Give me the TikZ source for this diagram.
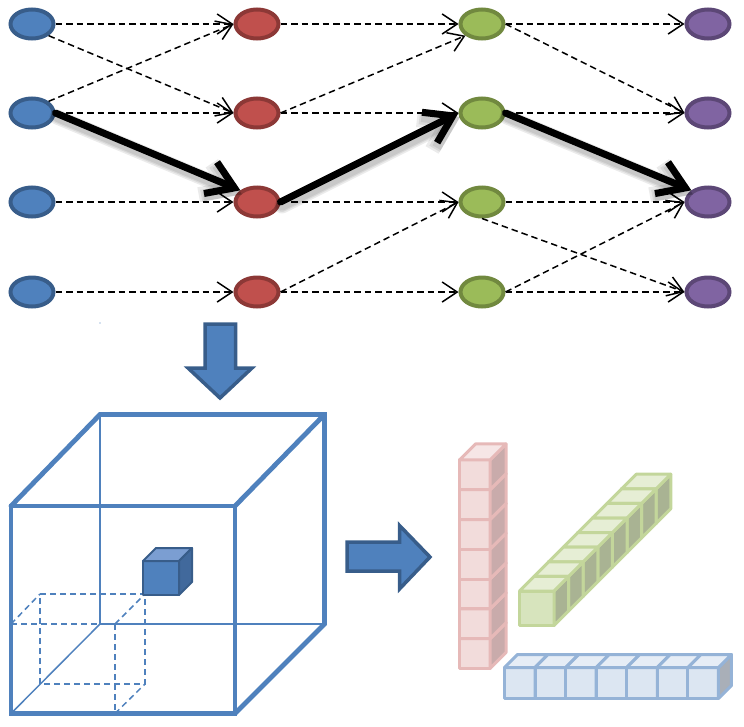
\documentclass[tikz,border=0pt]{standalone}
\usetikzlibrary{arrows.meta,shapes.geometric}
\definecolor{bfill}{HTML}{4F81BD}
\definecolor{bline}{HTML}{385D8A}
\definecolor{rfill}{HTML}{C0504D}
\definecolor{rline}{HTML}{8C3836}
\definecolor{gfill}{HTML}{9BBB59}
\definecolor{gline}{HTML}{71893F}
\definecolor{pfill}{HTML}{8064A2}
\definecolor{pline}{HTML}{5C4776}
\definecolor{pkline}{HTML}{E6B9B8}
\definecolor{pkfront}{HTML}{F2DCDB}
\definecolor{pktop}{HTML}{F6E6E6}
\definecolor{pkside}{HTML}{C9ABAB}
\definecolor{grline}{HTML}{C3D69B}
\definecolor{grfront}{HTML}{D7E4BD}
\definecolor{grtop}{HTML}{E6EED5}
\definecolor{grside}{HTML}{A9B393}
\definecolor{blline}{HTML}{95B3D7}
\definecolor{blfront}{HTML}{DCE6F2}
\definecolor{bltop}{HTML}{E6EDF6}
\definecolor{blside}{HTML}{A9AFB8}
\definecolor{cubetop}{HTML}{7B9ED2}
\definecolor{cubeside}{HTML}{41699C}
\tikzset{
  neuron/.style={ellipse, minimum width=43pt, minimum height=29pt, inner sep=0pt, line width=4pt},
  layA/.style={neuron, fill=bfill, draw=bline},
  layB/.style={neuron, fill=rfill, draw=rline},
  layC/.style={neuron, fill=gfill, draw=gline},
  layD/.style={neuron, fill=pfill, draw=pline},
  dasharrow/.style={line width=1.5pt, dash pattern=on 6.5pt off 4pt, -{Straight Barb[length=15pt,width=20pt]}},
  patharrow/.style={line width=7pt, line cap=round, -{Straight Barb[length=26pt,width=34pt]}},
  pathshadow/.style={line width=#1, black, opacity=0.08, line cap=round, -{Straight Barb[length=26pt,width=34pt]}},
  blockarrow/.style={line width=3.5pt, draw=bline, fill=bfill, line join=miter},
  thickedge/.style={line width=4.8pt, draw=bfill, line cap=round},
  thinedge/.style={line width=1.5pt, draw=bfill},
  hidden/.style={line width=1.5pt, draw=bfill, dash pattern=on 6pt off 4pt},
  pinkcube/.style={line width=3pt, draw=pkline, line join=round},
  greencube/.style={line width=3pt, draw=grline, line join=round},
  bluecube/.style={line width=3pt, draw=blline, line join=round},
  solidcube/.style={line width=2pt, draw=bline, line join=round}
}
\begin{document}
\begin{tikzpicture}[x=1pt,y=-1pt]
\useasboundingbox (0,0) rectangle (744,726);

% ---------- neurons ----------
\node[layA] (b1) at (32,24) {};
\node[layA] (b2) at (32,113) {};
\node[layA] (b3) at (32,202) {};
\node[layA] (b4) at (32,292) {};
\node[layB] (r1) at (257,24) {};
\node[layB] (r2) at (257,113) {};
\node[layB] (r3) at (257,202) {};
\node[layB] (r4) at (257,292) {};
\node[layC] (g1) at (482,24) {};
\node[layC] (g2) at (482,113) {};
\node[layC] (g3) at (482,202) {};
\node[layC] (g4) at (482,292) {};
\node[layD] (p1) at (708,24) {};
\node[layD] (p2) at (708,113) {};
\node[layD] (p3) at (708,202) {};
\node[layD] (p4) at (708,292) {};

% ---------- dashed connections ----------
\draw[dasharrow] (b1.east) -- (r1.west);
\draw[dasharrow] (b1.south east) -- (r2.west);
\draw[dasharrow] (b2.north east) -- (r1.west);
\draw[dasharrow] (b2.east) -- (r2.west);
\draw[dasharrow] (b3.east) -- (r3.west);
\draw[dasharrow] (b4.east) -- (r4.west);

\draw[dasharrow] (r1.east) -- (g1.west);
\draw[dasharrow] (r2.east) -- (g1.south west);
\draw[dasharrow] (r2.east) -- (g2.west);
\draw[dasharrow] (r3.east) -- (g3.west);
\draw[dasharrow] (r4.east) -- (g3.west);
\draw[dasharrow] (r4.east) -- (g4.west);

\draw[dasharrow] (g1.east) -- (p1.west);
\draw[dasharrow] (g1.east) -- (p2.west);
\draw[dasharrow] (g2.east) -- (p2.west);
\draw[dasharrow] (g3.east) -- (p3.west);
\draw[dasharrow] (g3.south) -- (p4.west);
\draw[dasharrow] (g4.east) -- (p3.west);
\draw[dasharrow] (g4.east) -- (p4.west);

% ---------- highlighted path: shadow ----------
\begin{scope}[transform canvas={shift={(1.5pt,-4pt)}}]
\foreach \w in {15pt,12pt,9.5pt} {
  \draw[pathshadow=\w] (b2.east) -- (r3.north west);
  \draw[pathshadow=\w] (r3.east) -- (g2.west);
  \draw[pathshadow=\w] (g2.east) -- (p3.north west);
}
\end{scope}
% ---------- highlighted path ----------
\draw[patharrow] (b2.east) -- (r3.north west);
\draw[patharrow] (r3.east) -- (g2.west);
\draw[patharrow] (g2.east) -- (p3.north west);

% tiny dot
\fill[bfill] (100,323) circle (0.7pt);

% ---------- block arrows ----------
\draw[blockarrow] (205,324) -- (235.5,324) -- (235.5,368) -- (252,368) -- (220,398) -- (188,368) -- (205,368) -- cycle;
\draw[blockarrow] (347,542) -- (399.5,542) -- (399.5,525.5) -- (430,557) -- (399.5,589) -- (399.5,571) -- (347,571) -- cycle;

% ---------- big cube ----------
\draw[thinedge] (100,414.5) -- (100,624) -- (324.5,624);
\draw[thinedge] (11,713.5) -- (100,624);
% dashed small cube
\draw[hidden] (11,624) -- (100,624);
\draw[hidden] (115,624) -- (115,713.5);
\draw[hidden] (40,594) -- (145,594) -- (145,684) -- (40,684) -- cycle;
\draw[hidden] (11,624) -- (40,594);
\draw[hidden] (115,624) -- (145,594);
\draw[hidden] (115,713.5) -- (145,684);
% thick edges
\draw[thickedge] (11,506) rectangle (235,713.5);
\draw[thickedge] (11,506) -- (100,414.5) -- (324.5,414.5) -- (324.5,624) -- (235,713.5);
\draw[thickedge] (235,506) -- (324.5,414.5);

% small solid cube
\filldraw[solidcube, fill=bfill] (143,561) rectangle (179,595);
\filldraw[solidcube, fill=cubetop] (143,561) -- (156,548) -- (192,548) -- (179,561) -- cycle;
\filldraw[solidcube, fill=cubeside] (179,561) -- (192,548) -- (192,582) -- (179,595) -- cycle;

% ---------- pink column ----------
\foreach \i in {0,...,6} {
  \pgfmathsetmacro{\yb}{668.5-29.8*\i}
  \pgfmathsetmacro{\yt}{\yb-29.8}
  \filldraw[pinkcube, fill=pkfront] (459.5,\yt) rectangle (490,\yb);
  \filldraw[pinkcube, fill=pkside] (490,\yt) -- (506,\yt-16) -- (506,\yb-16) -- (490,\yb) -- cycle;
  \filldraw[pinkcube, fill=pktop] (459.5,\yt) -- (475.5,\yt-16) -- (506,\yt-16) -- (490,\yt) -- cycle;
}

% ---------- green diagonal ----------
\foreach \i in {7,6,...,0} {
  \pgfmathsetmacro{\xa}{519.5+14.6*\i}
  \pgfmathsetmacro{\xb}{554+14.6*\i}
  \pgfmathsetmacro{\ya}{591-14.6*\i}
  \pgfmathsetmacro{\yb}{625.5-14.6*\i}
  \filldraw[greencube, fill=grfront] (\xa,\ya) rectangle (\xb,\yb);
  \filldraw[greencube, fill=grside] (\xb,\ya) -- (\xb+14.6,\ya-14.6) -- (\xb+14.6,\yb-14.6) -- (\xb,\yb) -- cycle;
  \filldraw[greencube, fill=grtop] (\xa,\ya) -- (\xa+14.6,\ya-14.6) -- (\xb+14.6,\ya-14.6) -- (\xb,\ya) -- cycle;
}

% ---------- blue row ----------
\foreach \i in {0,...,6} {
  \pgfmathsetmacro{\xa}{504.5+30.57*\i}
  \pgfmathsetmacro{\xb}{\xa+30.57}
  \filldraw[bluecube, fill=blfront] (\xa,667.5) rectangle (\xb,698.5);
  \filldraw[bluecube, fill=blside] (\xb,667.5) -- (\xb+13,654.5) -- (\xb+13,685.5) -- (\xb,698.5) -- cycle;
  \filldraw[bluecube, fill=bltop] (\xa,667.5) -- (\xa+13,654.5) -- (\xb+13,654.5) -- (\xb,667.5) -- cycle;
}
\end{tikzpicture}
\end{document}
